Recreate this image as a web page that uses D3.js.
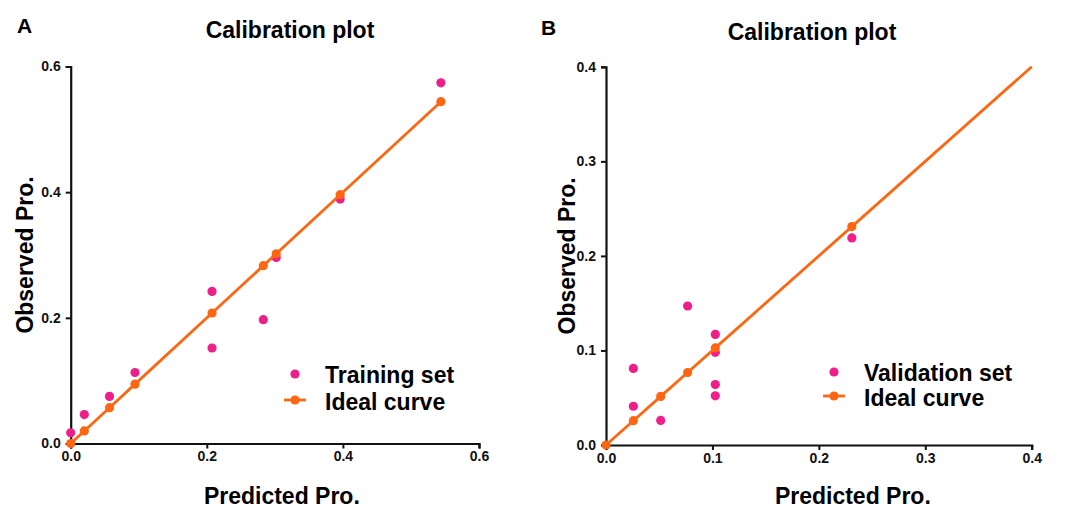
<!DOCTYPE html>
<html>
<head>
<meta charset="utf-8">
<script src="https://cdn.jsdelivr.net/npm/d3@7"></script>
<style>
  body { margin: 0; background: #fff; }
  svg { display: block; font-family: "Liberation Sans", Arial, sans-serif; font-weight: bold; }
</style>
</head>
<body>
<svg width="1075" height="510"></svg>
<script>
  // panel A - training set
  var trainPred = [0, 0.02, 0.057, 0.0945, 0.2077, 0.2077, 0.283, 0.302, 0.396, 0.544]
  var trainObs = [0.017, 0.046, 0.075, 0.113, 0.242, 0.152, 0.197, 0.296, 0.389, 0.574]
  var idealA = [0, 0.02, 0.057, 0.0945, 0.2077, 0.283, 0.302, 0.396, 0.544]
  var ticksA = [0, 0.2, 0.4, 0.6]

  // panel B - validation set
  var validPred = [0.0257, 0.0257, 0.0514, 0.0767, 0.1027, 0.1027, 0.1027, 0.1027, 0.231]
  var validObs = [0.081, 0.041, 0.026, 0.147, 0.117, 0.098, 0.064, 0.052, 0.219]
  var idealB = [0, 0.0257, 0.0514, 0.0767, 0.1027, 0.231]
  var idealEndB = 0.4
  var ticksB = [0, 0.1, 0.2, 0.3, 0.4]

  var pink = '#f01e8a'
  var orange = '#ff6612'

  var svg = d3.select('svg')

  function drawPanel(p) {
    var x = d3.scaleLinear().domain(p.domain).range(p.xRange)
    var y = d3.scaleLinear().domain(p.domain).range(p.yRange)
    var g = svg.append('g')

    // axes
    var xAxis = g.append('g')
      .attr('transform', 'translate(0,' + p.yRange[0] + ')')
      .call(d3.axisBottom(x).tickValues(p.ticks).tickFormat(d3.format('.1f')).tickSizeOuter(0).tickSize(5).tickPadding(3))
    var yAxis = g.append('g')
      .attr('transform', 'translate(' + p.xRange[0] + ',0)')
      .call(d3.axisLeft(y).tickValues(p.ticks).tickFormat(d3.format('.1f')).tickSizeOuter(0).tickSize(5).tickPadding(5))
    ;[xAxis, yAxis].forEach(function (a) {
      a.select('.domain').attr('stroke', '#111').attr('stroke-width', 2.2)
      a.selectAll('.tick line').attr('stroke', '#111').attr('stroke-width', 2)
      a.selectAll('.tick text').attr('fill', '#111').attr('font-size', 14).attr('font-weight', 'bold')
        .attr('font-family', '"Liberation Sans", Arial, sans-serif')
    })

    // observed points
    g.append('g').selectAll('circle')
      .data(p.pred)
      .enter().append('circle')
      .attr('cx', function (d) { return x(d) })
      .attr('cy', function (d, i) { return y(p.obs[i]) })
      .attr('r', 4.6)
      .attr('fill', pink)

    // ideal curve
    var lineData = p.ideal.slice()
    if (p.idealEnd) lineData.push(p.idealEnd)
    g.append('path')
      .datum(lineData)
      .attr('fill', 'none')
      .attr('stroke', orange)
      .attr('stroke-width', 2.8)
      .attr('d', d3.line().x(function (d) { return x(d) }).y(function (d) { return y(d) }))
    g.append('g').selectAll('circle')
      .data(p.ideal)
      .enter().append('circle')
      .attr('cx', function (d) { return x(d) })
      .attr('cy', function (d) { return y(d) })
      .attr('r', 4.6)
      .attr('fill', orange)

    // texts
    g.append('text').text(p.letter)
      .attr('x', p.letterPos[0]).attr('y', p.letterPos[1]).attr('font-size', 21)
    g.append('text').text('Calibration plot')
      .attr('x', p.titlePos[0]).attr('y', p.titlePos[1])
      .attr('text-anchor', 'middle').attr('font-size', 23)
    g.append('text').text('Predicted Pro.')
      .attr('x', (p.xRange[0] + p.xRange[1]) / 2 + p.xLabelShift).attr('y', p.xLabelY)
      .attr('text-anchor', 'middle').attr('font-size', 23)
    g.append('text').text('Observed Pro.')
      .attr('transform', 'translate(' + p.yLabelX + ',' + (p.yRange[0] + p.yRange[1]) / 2 + ') rotate(-90)')
      .attr('text-anchor', 'middle').attr('font-size', 23)

    // legend
    var lg = g.append('g').attr('transform', 'translate(' + p.legendPos[0] + ',' + p.legendPos[1] + ')')
    lg.append('circle').attr('cx', 0).attr('cy', 0).attr('r', 4.6).attr('fill', pink)
    lg.append('text').text(p.setName).attr('x', 30).attr('y', 9).attr('font-size', 23)
    lg.append('line').attr('x1', -11).attr('x2', 11).attr('y1', p.legendGap).attr('y2', p.legendGap)
      .attr('stroke', orange).attr('stroke-width', 2.8)
    lg.append('circle').attr('cx', 0).attr('cy', p.legendGap).attr('r', 4.6).attr('fill', orange)
    lg.append('text').text('Ideal curve').attr('x', 30).attr('y', p.legendGap + 10).attr('font-size', 23)
  }

  drawPanel({
    domain: [0, 0.6], xRange: [70.7, 479], yRange: [443.5, 66.5], ticks: ticksA,
    pred: trainPred, obs: trainObs, ideal: idealA, idealEnd: null,
    letter: 'A', letterPos: [17, 33], titlePos: [290, 38],
    xLabelShift: 7, xLabelY: 504, yLabelX: 33,
    legendPos: [295, 374], legendGap: 26, setName: 'Training set'
  })

  drawPanel({
    domain: [0, 0.4], xRange: [606, 1031.7], yRange: [445, 66.8], ticks: ticksB,
    pred: validPred, obs: validObs, ideal: idealB, idealEnd: idealEndB,
    letter: 'B', letterPos: [541, 35], titlePos: [812, 40],
    xLabelShift: 34, xLabelY: 504, yLabelX: 575,
    legendPos: [834, 372], legendGap: 24, setName: 'Validation set'
  })
</script>
</body>
</html>
